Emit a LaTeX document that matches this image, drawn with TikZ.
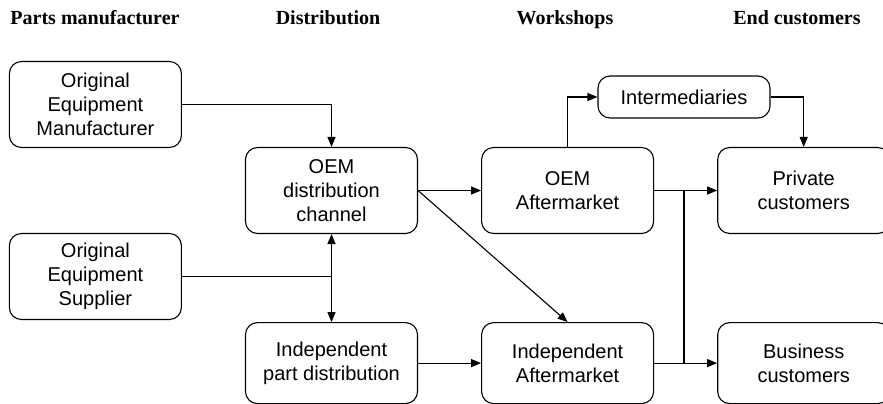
\documentclass[tikz,border=0pt]{standalone}
\usepackage{fontspec}
\setmainfont{Liberation Sans}
\newfontfamily\headfont{Liberation Serif}
\usepackage{tikz}
\usetikzlibrary{positioning, arrows, arrows.meta}
\tikzset{block/.style={
        draw,
        rectangle,
        rounded corners=12pt,
        line width=1.1pt,
        inner sep=2pt,
        align=center,
        minimum width=172pt,
        minimum height=86pt
}}
\tikzset{smallblock/.style={
        block,
        minimum height=42pt
}}
\tikzset{header/.style={anchor=base,font=\headfont\bfseries\fontsize{20}{24}\selectfont}}
\tikzset{flowedge/.style={draw,line width=1.1pt,-{Triangle[length=10pt,width=8pt]}}}
\tikzset{plainedge/.style={draw,line width=1.1pt}}

\begin{document}
\begin{tikzpicture}[x=1pt,y=1pt,node distance=63pt,every node/.style={font=\fontsize{20}{24}\selectfont}]
\useasboundingbox (0,0) rectangle (883,-404);

\node[header] (hmanu) at (95,-25) {Parts manufacturer};
\node[header] (hdist) at (328,-25) {Distribution};
\node[header] (hwork) at (565,-25) {Workshops};
\node[header] (hcust) at (797,-25) {End customers};

\node[block] (odist) at (331.5,-190.5) {OEM\\distribution\\channel};
\node[block, right=of odist] (oam) {OEM\\Aftermarket};
\node[block, right=of oam] (priv) {Private\\customers};
\node[block, left=of odist, yshift=86pt] (oem) {Original\\Equipment\\Manufacturer};
\node[block, left=of odist, yshift=-86pt] (oes) {Original\\Equipment\\Supplier};
\node[block, minimum height=81pt, below=88pt of odist] (idist) {Independent\\part distribution};
\node[block, minimum height=81pt, right=of idist] (iam) {Independent\\Aftermarket};
\node[block, minimum height=81pt, right=of iam] (bus) {Business\\customers};
\node[smallblock] (inter) at (684,-97) {Intermediaries};

\coordinate (jsup) at (odist.south |- oes.east);
\coordinate (jtop) at (inter.south |- oam.east);
\coordinate (jbot) at (inter.south |- iam.east);

\draw[flowedge] (oem.east) -| (odist.north);
\draw[plainedge] (oes.east) -- (jsup);
\draw[flowedge, {Triangle[length=10pt,width=8pt]}-{Triangle[length=10pt,width=8pt]}] (odist.south) -- (idist.north);
\draw[flowedge] (odist.east) -- (oam.west);
\draw[flowedge] (odist.east) -- (iam.north);
\draw[flowedge] (idist.east) -- (iam.west);
\draw[flowedge] (oam.north) |- (inter.west);
\draw[flowedge] (inter.east) -| (priv.north);
\draw[flowedge] (oam.east) -- (priv.west);
\draw[flowedge] (iam.east) -- (bus.west);
\draw[plainedge] (jtop) -- (jbot);
\end{tikzpicture}
\end{document}
